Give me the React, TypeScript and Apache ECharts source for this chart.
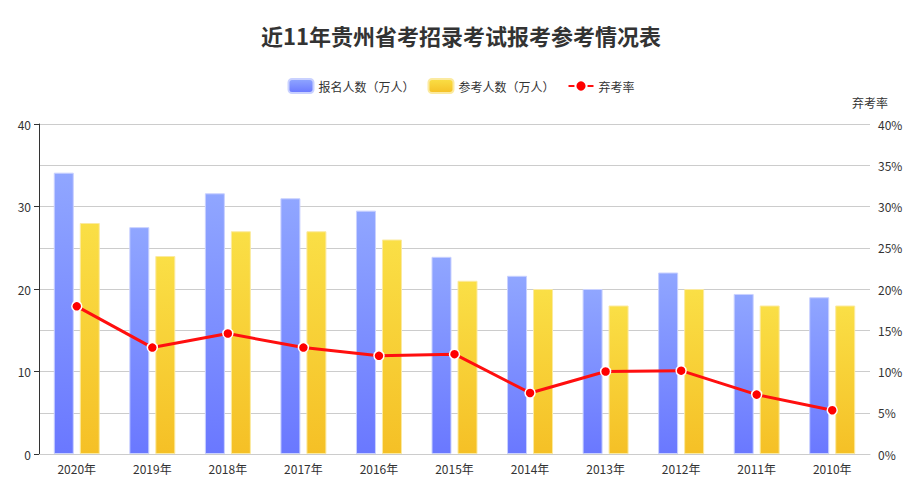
import React, { useEffect, useRef } from "react";
import * as echarts from "echarts";

const categories = ["2020年", "2019年", "2018年", "2017年", "2016年", "2015年", "2014年", "2013年", "2012年", "2011年", "2010年"];
const applicants = [34.1, 27.5, 31.6, 31.0, 29.5, 23.9, 21.6, 20.0, 22.0, 19.4, 19.0];
const examinees = [28, 24, 27, 27, 26, 21, 20, 18, 20, 18, 18];
const absentRate = [17.9, 12.9, 14.6, 12.9, 11.9, 12.1, 7.4, 10.0, 10.1, 7.2, 5.3];

export default function App() {
  const ref = useRef<HTMLDivElement>(null);
  useEffect(() => {
    if (!ref.current) return;
    const chart = echarts.init(ref.current, undefined, { renderer: "svg" });
    const font = "'Microsoft YaHei', 'Noto Sans CJK SC', sans-serif";
    const blue = new echarts.graphic.LinearGradient(0, 0, 0, 1, [
      { offset: 0, color: "#90a6ff" },
      { offset: 1, color: "#6a78ff" },
    ]);
    const yellow = new echarts.graphic.LinearGradient(0, 0, 0, 1, [
      { offset: 0, color: "#fadf46" },
      { offset: 1, color: "#f5c026" },
    ]);
    chart.setOption({
      animation: false,
      textStyle: { fontFamily: font },
      title: {
        text: "近11年贵州省考招录考试报考参考情况表",
        left: "center",
        top: 19,
        textStyle: { fontSize: 22, fontWeight: "bold", color: "#333", fontFamily: font },
      },
      legend: {
        top: 73,
        left: "center",
        itemWidth: 25,
        itemHeight: 14,
        itemGap: 13,
        textStyle: { fontSize: 12, color: "#333" },
        data: [
          { name: "报名人数（万人）", itemStyle: { color: blue } },
          { name: "参考人数（万人）", itemStyle: { color: yellow } },
          { name: "弃考率" },
        ],
      },
      grid: { left: 39, right: 52, top: 124, bottom: 37 },
      xAxis: {
        type: "category",
        data: categories,
        axisLine: { lineStyle: { color: "#ccc" } },
        axisTick: { show: false },
        axisLabel: { color: "#333", fontSize: 12, margin: 8 },
      },
      yAxis: [
        {
          type: "value",
          min: 0,
          max: 40,
          interval: 10,
          axisLine: { show: true, lineStyle: { color: "#333" } },
          axisTick: { show: true, lineStyle: { color: "#333" } },
          axisLabel: { color: "#333", fontSize: 12 },
          splitLine: { show: false },
        },
        {
          type: "value",
          name: "弃考率",
          nameGap: 16,
          nameTextStyle: { color: "#333", fontSize: 12 },
          min: 0,
          max: 40,
          interval: 5,
          axisLine: { show: false },
          axisTick: { show: false },
          axisLabel: { color: "#333", fontSize: 12, formatter: "{value}%" },
          splitLine: { show: true, lineStyle: { color: "#ccc" } },
        },
      ],
      series: [
        {
          name: "报名人数（万人）",
          type: "bar",
          data: applicants,
          barWidth: 20,
          barGap: "30%",
          itemStyle: { color: blue, borderColor: "#c9d1ff", borderWidth: 1 },
        },
        {
          name: "参考人数（万人）",
          type: "bar",
          data: examinees,
          barWidth: 20,
          itemStyle: { color: yellow, borderColor: "#fbeaa0", borderWidth: 1 },
        },
        {
          name: "弃考率",
          type: "line",
          yAxisIndex: 1,
          data: absentRate,
          symbol: "circle",
          symbolSize: 10,
          lineStyle: { color: "#ff0f0f", width: 3 },
          itemStyle: { color: "#ff0000", borderColor: "#fff", borderWidth: 1.5 },
          z: 5,
        },
      ],
    });
    return () => chart.dispose();
  }, []);
  return <div ref={ref} style={{ width: 922, height: 491, margin: -8 }} />;
}
